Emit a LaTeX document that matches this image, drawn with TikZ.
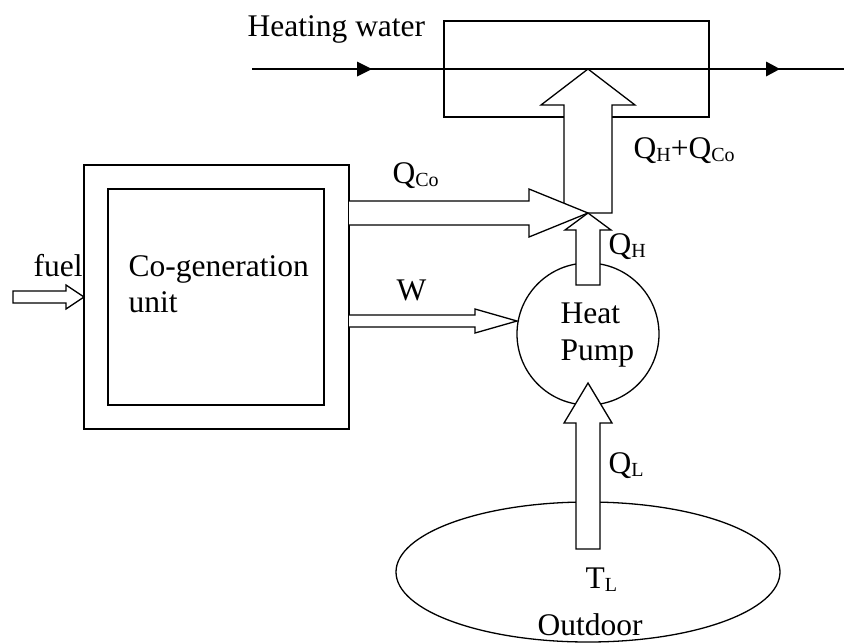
\documentclass[tikz,border=0pt]{standalone}
\usepackage{fontspec}
\setmainfont{Liberation Serif}
\usetikzlibrary{shapes.geometric}
\newcommand\lowsub[1]{\raisebox{-3pt}{\fontsize{20}{20}\selectfont #1}}
\begin{document}
\begin{tikzpicture}[x=1pt,y=-1pt,line width=1.3pt,
  lbl/.style={inner sep=0pt,anchor=base west,font=\fontsize{31.5}{36}\selectfont},
  box/.style={draw,inner sep=0pt,line width=1.3pt},
  fat/.style={draw,fill=white,line width=1.3pt,line join=miter},
  wtip/.style={fill=black}]
\useasboundingbox (0,0) rectangle (844,643);

% co-generation unit
\node[box,minimum width=265pt,minimum height=264pt] (outer) at (216.5,297) {};
\node[box,minimum width=216pt,minimum height=216pt] (inner) at (216,297) {};
\node[lbl] (cg1) at (128,276) {Co-generation};
\node[lbl] (cg2) at (128,312) {unit};

% fuel
\node[lbl] (fuel) at (33,276) {fuel};
\filldraw[fat] (13,291) -- (66,291) -- (66,285) -- (84,297) -- (66,309) -- (66,303) -- (13,303) -- cycle;

% heating water exchanger
\node[box,minimum width=265pt,minimum height=96pt] (hx) at (576.5,69) {};
\coordinate (win) at (252,69);
\coordinate (wout) at (844,69);
\draw (win) -- (wout);
\fill[wtip] (372,69) -- ++(-15,-7.5) -- ++(0,15) -- cycle;
\fill[wtip] (780,69) -- ++(-14,-7.5) -- ++(0,15) -- cycle;
\node[lbl] (hw) at (247,36) {Heating water};

% outdoor
\node[draw,ellipse,minimum width=384pt,minimum height=140pt,inner sep=0pt] (out) at (588,572) {};
\node[lbl] (tl) at (585,588) {T\lowsub{L}};
\node[lbl] (od) at (537,635) {Outdoor};

% heat pump
\node[draw,circle,minimum size=142pt,inner sep=0pt] (hp) at (588,334) {};
\node[lbl] (hp1) at (560,323) {Heat};
\node[lbl] (hp2) at (560,360) {Pump};

% QL arrow
\filldraw[fat] (576,549) -- (576,423) -- (564,423) -- (588,383) -- (612,423) -- (600,423) -- (600,549) -- cycle;
\node[lbl] (ql) at (608,473) {Q\lowsub{L}};

% QH arrow
\filldraw[fat] (576,285) -- (576,230) -- (565,230) -- (588,213) -- (611,230) -- (600,230) -- (600,285) -- cycle;
\node[lbl] (qh) at (608,254) {Q\lowsub{H}};

% QH+QCo arrow
\filldraw[fat] (564,213) -- (564,105) -- (541,105) -- (588,69) -- (635,105) -- (612,105) -- (612,213) -- cycle;
\node[lbl] (qhco) at (633,158) {Q\lowsub{H}+Q\lowsub{Co}};

% QCo arrow
\filldraw[fat] (349,201) -- (529,201) -- (529,189) -- (588,213) -- (529,237) -- (529,225) -- (349,225);
\node[lbl] (qco) at (392,183) {Q\lowsub{Co}};

% W arrow
\filldraw[fat] (349,315) -- (475,315) -- (475,309) -- (517,321) -- (475,333) -- (475,327) -- (349,327);
\node[lbl] (w) at (396,300) {W};
\end{tikzpicture}
\end{document}
